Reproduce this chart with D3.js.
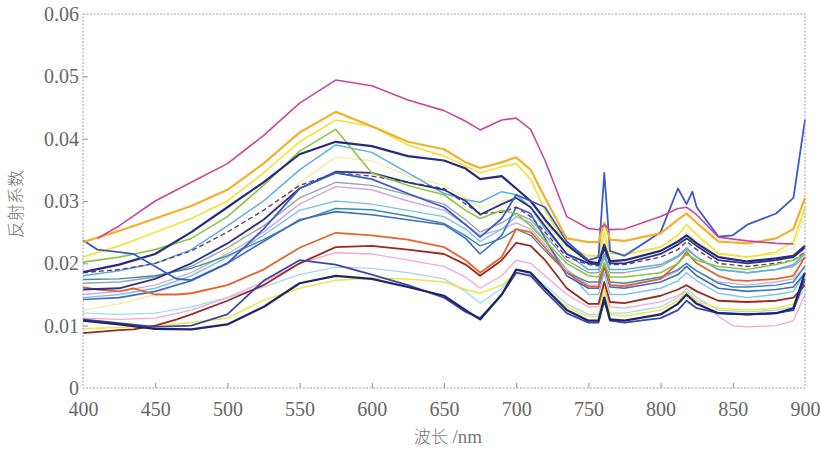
<!DOCTYPE html>
<html><head><meta charset="utf-8">
<script src="https://cdn.jsdelivr.net/npm/d3@7/dist/d3.min.js"></script>
<style>body{margin:0;background:#fff}</style>
</head><body>
<svg id="c" width="820" height="454"></svg>
<script>
const _ = null;
// wavelength grid (nm)
const wavelengths = [400,410,425,435,450,465,475,500,525,550,575,600,625,650,665,675,690,700,710,720,735,750,757,761,765,775,800,812,818,822,825,840,850,860,880,892,900];
const xTicks = [400,450,500,550,600,650,700,750,800,850,900];
const yTicks = [0,0.01,0.02,0.03,0.04,0.05,0.06];
const xTitleCJK = "波长";
const xTitleUnit = " /nm";
const yTitle = "反射系数";

// reflectance spectra (one array per sample)
const sMagenta   = [_,.0240,.0260,_,.0300,_,.0330,.0360,.0405,.0457,.0494,.0485,.0462,.0445,.0428,.0414,.0430,.0433,.0415,.0365,.0275,.0256,.0254,.0262,.0254,.0255,.0275,.0288,.0290,_,.0278,.0242,_,.0236,.0232,.0231,_];
const sOrange    = [.0234,_,.0252,_,.0272,_,.0292,.0318,.0360,.0410,.0443,.0420,.0395,.0383,.0362,.0353,.0362,.0370,.0350,.0305,.0240,.0234,.0234,.0265,.0238,.0236,.0248,.0270,.0280,_,.0265,.0235,_,.0232,.0240,.0255,.0305];
const sYellow    = [.0210,_,.0228,_,.0250,_,.0272,.0300,.0345,.0395,.0430,.0420,.0390,.0372,.0356,.0345,.0355,.0360,.0335,.0285,.0228,.0212,.0212,.0250,.0216,.0214,.0226,.0245,.0262,_,.0246,.0216,_,.0210,.0218,.0235,.0290];
const sGreen     = [.0202,_,.0210,_,.0222,_,.0240,.0275,.0325,.0380,.0415,.0345,.0325,.0310,.0285,.0272,.0285,.0280,.0260,.0236,.0200,.0180,.0178,.0200,.0178,.0178,.0185,.0200,.0215,_,.0205,.0195,_,.0190,.0198,.0205,.0215];
const sNavyA     = [.0186,_,.0198,_,.0215,_,.0250,.0290,.0330,.0375,.0395,.0388,.0372,.0365,.0352,.0335,.0340,.0320,.0300,.0270,.0230,.0203,.0200,.0230,.0203,.0205,.0220,.0235,.0245,_,.0232,.0210,_,.0203,.0208,.0212,.0228];
const sSky       = [.0180,_,.0188,_,.0200,_,.0222,.0260,.0300,.0350,.0390,.0378,.0345,.0312,.0302,.0298,.0315,.0310,.0290,.0255,.0215,.0190,.0190,.0215,.0190,.0190,.0198,.0212,.0225,_,.0210,.0190,_,.0185,.0190,.0198,.0215];
const sBlue      = [.0237,.0222,.0218,.0215,.0195,.0175,.0173,.0200,.0255,.0320,.0345,.0335,.0312,.0290,.0262,.0242,.0272,.0310,.0300,.0290,.0235,.0205,.0210,.0345,.0220,.0212,.0250,.0320,.0295,.0315,.0290,.0243,.0245,.0262,.0280,.0305,.0430];
const sNavyB     = [.0158,_,.0160,_,.0175,_,.0200,.0232,.0270,.0320,.0347,.0345,.0330,.0318,.0300,.0278,.0295,.0305,.0290,.0260,.0215,.0200,.0198,.0225,.0200,.0200,.0215,.0230,.0240,_,.0228,.0205,_,.0200,.0205,.0210,.0225];
const sPurple    = [.0185,_,.0190,_,.0200,_,.0220,.0250,.0285,.0325,.0345,.0340,.0330,.0320,.0295,.0280,.0282,.0290,.0275,.0250,.0210,.0198,.0196,.0222,.0198,.0198,.0210,.0222,.0235,_,.0222,.0200,_,.0195,.0200,.0205,.0218];
const sPaleYel   = [.0125,_,.0135,_,.0150,_,.0180,.0220,.0270,.0330,.0370,.0365,.0340,.0325,.0305,.0290,.0300,.0305,.0290,.0265,.0225,.0205,.0205,.0240,.0208,.0205,.0215,.0230,.0250,_,.0235,.0215,_,.0210,.0215,.0225,.0280];
const sGray      = [.0168,_,.0170,_,.0178,_,.0195,.0225,.0260,.0305,.0330,.0325,.0310,.0295,.0270,.0250,.0265,.0280,.0270,.0245,.0205,.0185,.0185,.0210,.0185,.0185,.0195,.0210,.0222,_,.0210,.0190,_,.0185,.0190,.0195,.0210];
const sLavender  = [.0150,_,.0155,_,.0165,_,.0185,.0215,.0250,.0295,.0323,.0318,.0300,.0285,.0262,.0245,.0255,.0265,.0255,.0230,.0190,.0165,.0165,.0195,.0165,.0165,.0175,.0188,.0200,_,.0188,.0170,_,.0165,.0170,.0175,.0195];
const sSky2      = [.0145,_,.0150,_,.0160,_,.0180,.0210,.0245,.0285,.0300,.0295,.0285,.0275,.0255,.0235,.0255,.0275,.0265,.0235,.0190,.0150,.0150,.0185,.0150,.0150,.0160,.0172,.0185,_,.0172,.0152,_,.0145,.0150,.0155,.0185];
const sBlue2     = [.0142,_,.0145,_,.0155,_,.0172,.0200,.0235,.0270,.0283,.0278,.0270,.0262,.0240,.0215,.0245,.0290,.0280,.0240,.0180,.0160,.0160,.0195,.0162,.0160,.0170,.0182,.0195,_,.0180,.0160,_,.0155,.0158,.0162,.0185];
const sOrange2   = [.0162,.0158,.0155,.0160,.0150,.0150,.0152,.0165,.0190,.0225,.0249,.0245,.0238,.0226,.0205,.0185,.0210,.0255,.0250,.0225,.0185,.0163,.0162,.0200,.0165,.0163,.0175,.0200,.0218,_,.0200,.0180,.0173,.0172,.0175,.0180,.0210];
const sBrown     = [.0088,_,.0093,.0094,.0100,.0110,.0118,.0140,.0165,.0200,.0226,.0228,.0222,.0215,.0198,.0180,.0205,.0233,.0228,.0205,.0160,.0135,.0135,.0170,.0138,.0136,.0148,.0158,.0165,_,.0155,.0140,_,.0138,.0140,.0145,.0165];
const sPink      = [.0112,_,.0110,_,.0112,_,.0125,.0145,.0170,.0200,.0217,.0215,.0205,.0195,.0178,.0160,.0180,.0205,.0200,.0180,.0150,.0130,.0130,.0160,.0130,.0128,.0138,.0148,.0155,_,.0140,.0115,.0100,.0098,.0100,.0108,.0150];
const sCyan      = [.0120,_,.0118,_,.0120,_,.0130,.0145,.0162,.0182,.0194,.0192,.0185,.0175,.0155,.0136,.0160,.0185,.0182,.0165,.0135,.0118,.0118,.0150,.0120,.0120,.0130,.0145,.0160,_,.0145,.0125,_,.0122,.0125,.0130,.0160];
const sNavyBump  = [.0110,_,.0104,_,.0098,_,.0100,.0118,.0172,.0205,.0198,.0182,.0165,.0145,.0122,.0112,.0150,.0185,.0180,.0155,.0120,.0105,.0105,.0140,.0108,.0105,.0112,.0125,.0140,_,.0128,.0120,_,.0118,.0120,.0125,.0175];
const sNavyLow   = [.0108,_,.0102,_,.0095,_,.0094,.0102,.0130,.0168,.0180,.0175,.0162,.0148,.0125,.0110,.0150,.0190,.0185,.0160,.0125,.0108,.0108,.0145,.0110,.0108,.0118,.0135,.0150,_,.0135,.0120,_,.0118,.0120,.0128,.0185];
const sYellowLow = [.0095,_,.0097,_,.0100,_,.0105,.0112,.0141,.0160,.0173,.0176,.0175,.0170,.0158,.0152,.0165,.0185,.0180,.0160,.0130,.0115,.0115,.0160,.0118,.0115,.0125,.0140,.0155,_,.0140,.0128,_,.0125,.0128,.0135,.0170];
const sTeal      = [.0174,_,.0175,_,.0180,_,.0192,.0212,.0238,.0268,.0288,.0286,.0276,.0264,.0244,.0228,.0240,.0255,.0245,.0220,.0185,.0170,.0170,.0200,.0170,.0168,.0178,.0190,.0200,_,.0188,.0168,.0162,.0162,.0165,.0170,.0195];

const seriesValues = [sPaleYel,sCyan,sPink,sLavender,sSky2,sGray,sTeal,sYellowLow,sSky,sBlue2,sOrange2,sBrown,sPurple,sNavyB,sGreen,sYellow,sNavyA,sNavyBump,sNavyLow,sBlue,sOrange,sMagenta];
const seriesColors = ["#f3eca0","#a4d8ef","#f2a6d8","#c9abe3","#7cc2ea","#9ba4aa","#3a8c9e","#e9e84a","#5aaee0","#4169c8","#e8622a","#9a2a20","#6a3a78","#2b3486","#8cc540","#f2e233","#262c7a","#3a48a8","#1f2566","#3a5cc8","#f4b02a","#c9479f"];
const seriesWidths = [1.3,1.3,1.3,1.4,1.4,1.4,1.4,1.5,1.5,1.6,1.8,1.8,1.4,1.8,1.6,1.6,2.2,1.8,2.2,1.8,2.2,1.6];
const seriesDash   = [null,null,null,null,null,null,null,null,null,null,null,null,"5,3",null,null,null,null,null,null,null,null,null];

const svg = d3.select("#c");
const m = {left:83, top:14, right:15, bottom:66};
const W = 820 - m.left - m.right, H = 454 - m.top - m.bottom;
const x = d3.scaleLinear().domain([400,900]).range([0,W]);
const y = d3.scaleLinear().domain([0,0.06]).range([H,0]);
const g = svg.append("g").attr("transform",`translate(${m.left},${m.top})`);

const line = d3.line().x(d=>x(d.w)).y(d=>y(d.v));
seriesValues.forEach((vals,i)=>{
  const pts = wavelengths.map((w,j)=>({w,v:vals[j]})).filter(d=>d.v!==null);
  const p = g.append("path").datum(pts)
    .attr("fill","none").attr("stroke",seriesColors[i])
    .attr("stroke-width",seriesWidths[i]).attr("stroke-linejoin","round")
    .attr("d",line);
  if (seriesDash[i]) p.attr("stroke-dasharray",seriesDash[i]);
});

// frame
g.append("rect").attr("x",0).attr("y",0).attr("width",W).attr("height",H)
  .attr("fill","none").attr("stroke","#9a9ac0").attr("stroke-width",1).attr("stroke-dasharray","2,1.5");

const xAxis = g.append("g").attr("transform",`translate(0,${H})`)
  .call(d3.axisBottom(x).tickValues(xTicks).tickSize(-5).tickPadding(14).tickFormat(d3.format("d")));
const yAxis = g.append("g")
  .call(d3.axisLeft(y).tickValues(yTicks).tickSize(-5).tickPadding(4).tickFormat(d=>d===0?"0":d.toFixed(2)));
[xAxis,yAxis].forEach(a=>{
  a.attr("font-family","Liberation Serif").attr("font-size",20);
  a.select(".domain").remove();
  a.selectAll(".tick line").attr("stroke","#8c8cb0");
  a.selectAll(".tick text").attr("fill","#666").attr("font-family","Liberation Serif");
});
xAxis.selectAll(".tick").filter(d=>d===400||d===900).select("line").remove();
yAxis.selectAll(".tick").filter(d=>d===0||d===0.06).select("line").remove();

const xt = svg.append("text").attr("x",448).attr("y",443).attr("text-anchor","middle")
  .attr("fill","#777").attr("font-size",17);
xt.append("tspan").attr("font-family","Noto Sans CJK SC").attr("font-weight",300).text(xTitleCJK);
xt.append("tspan").attr("font-family","Liberation Serif").attr("font-size",19).text(xTitleUnit);
svg.append("text").attr("transform","translate(22,204) rotate(-90)").attr("text-anchor","middle")
  .attr("fill","#777").attr("font-family","Noto Sans CJK SC").attr("font-weight",300).attr("font-size",17)
  .text(yTitle);
</script>
</body></html>
